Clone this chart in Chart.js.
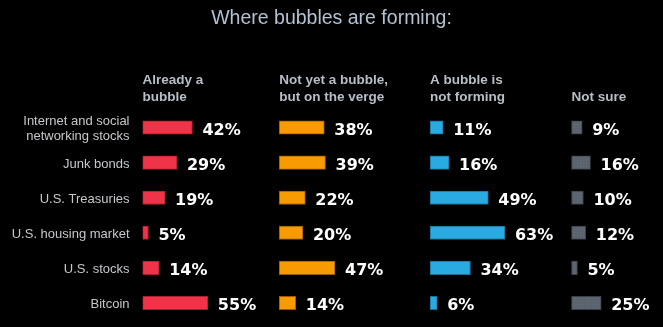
<!DOCTYPE html>
<html>
<head>
<meta charset="utf-8">
<title>Where bubbles are forming</title>
<script src="https://cdn.jsdelivr.net/npm/chart.js@4"></script>
<style>
  html, body { margin: 0; padding: 0; background: #000; }
  #bubbleChart { display: block; }
</style>
</head>
<body>
<canvas id="bubbleChart" width="663" height="327"></canvas>
<script>
// survey answers, percent of respondents
const categories = [
    ['Internet and social', 'networking stocks'],
    'Junk bonds',
    'U.S. Treasuries',
    'U.S. housing market',
    'U.S. stocks',
    'Bitcoin'
];
const alreadyBubble = [42, 29, 19, 5, 14, 55];
const onTheVerge = [38, 39, 22, 20, 47, 14];
const notForming = [11, 16, 49, 63, 34, 6];
const notSure = [9, 16, 10, 12, 5, 25];

const columnHeaders = [
    ['Already a', 'bubble'],
    ['Not yet a bubble,', 'but on the verge'],
    ['A bubble is', 'not forming'],
    ['Not sure']
];

// where each answer column begins on the shared x scale
const columnStart = [0, 115, 242, 361];

// grey bars get a faint dotted fill
function dottedFill() {
    const c = document.createElement('canvas');
    c.width = 3;
    c.height = 3;
    const g = c.getContext('2d');
    g.fillStyle = '#5b646e';
    g.fillRect(0, 0, 3, 3);
    g.fillStyle = '#646d78';
    g.fillRect(1, 1, 1, 1);
    return g.createPattern(c, 'repeat');
}

const ctx = document.getElementById('bubbleChart').getContext('2d');

const series = [
    { label: 'Already a bubble', values: alreadyBubble, fill: '#ef3349', edge: '#a8202f' },
    { label: 'Not yet a bubble, but on the verge', values: onTheVerge, fill: '#f89b00', edge: '#9a5c00' },
    { label: 'A bubble is not forming', values: notForming, fill: '#29aae1', edge: '#1a6f95' },
    { label: 'Not sure', values: notSure, fill: dottedFill(), edge: '#3a4048' }
];

// values printed after each bar plus the column headings
const barLabels = {
    id: 'barLabels',
    afterDatasetsDraw(chart) {
        const c = chart.ctx;
        const x = chart.scales.x;
        const top = chart.chartArea.top;
        c.save();

        c.fillStyle = '#ffffff';
        c.font = 'bold 16px "DejaVu Sans"';
        c.textAlign = 'left';
        c.textBaseline = 'alphabetic';
        chart.data.datasets.forEach((ds, i) => {
            chart.getDatasetMeta(i).data.forEach((bar, j) => {
                c.fillText(series[i].values[j] + '%', bar.x + 10, bar.y + 7.5);
            });
        });

        c.fillStyle = '#b8bec6';
        c.font = 'bold 13.5px "Liberation Sans"';
        columnHeaders.forEach((lines, i) => {
            const left = x.getPixelForValue(columnStart[i]);
            lines.slice().reverse().forEach((line, k) => {
                c.fillText(line, left, top - 9.5 - k * 16.5);
            });
        });
        c.restore();
    }
};

new Chart(ctx, {
    type: 'bar',
    data: {
        labels: categories,
        datasets: series.map((s, i) => ({
            label: s.label,
            data: s.values.map(v => [columnStart[i], columnStart[i] + v]),
            backgroundColor: s.fill,
            borderColor: s.edge,
            borderWidth: 1,
            borderSkipped: false,
            barThickness: 13.5,
            grouped: false
        }))
    },
    options: {
        indexAxis: 'y',
        responsive: false,
        animation: false,
        layout: { padding: { left: 0, right: 0, top: 0, bottom: 6.5 } },
        scales: {
            x: {
                display: false,
                min: 0,
                max: 438
            },
            y: {
                offset: true,
                grid: { display: false, drawTicks: false },
                border: { display: false },
                ticks: {
                    color: '#c4c8cc',
                    font: { family: 'Liberation Sans', size: 13 },
                    padding: 13,
                    labelOffset: 1.5
                },
                afterFit(scale) {
                    // fixed gutter for the row names, no extra room above/below
                    scale.width = 142.5;
                    scale.paddingTop = 0;
                    scale.paddingBottom = 0;
                }
            }
        },
        plugins: {
            legend: { display: false },
            tooltip: { enabled: false },
            title: {
                display: true,
                text: 'Where bubbles are forming:',
                color: '#b2c2d2',
                font: { family: 'Liberation Sans', size: 19.5, weight: 'normal' },
                padding: { top: 6.5, bottom: 80.1 }
            }
        }
    },
    plugins: [barLabels]
});
</script>
</body>
</html>
